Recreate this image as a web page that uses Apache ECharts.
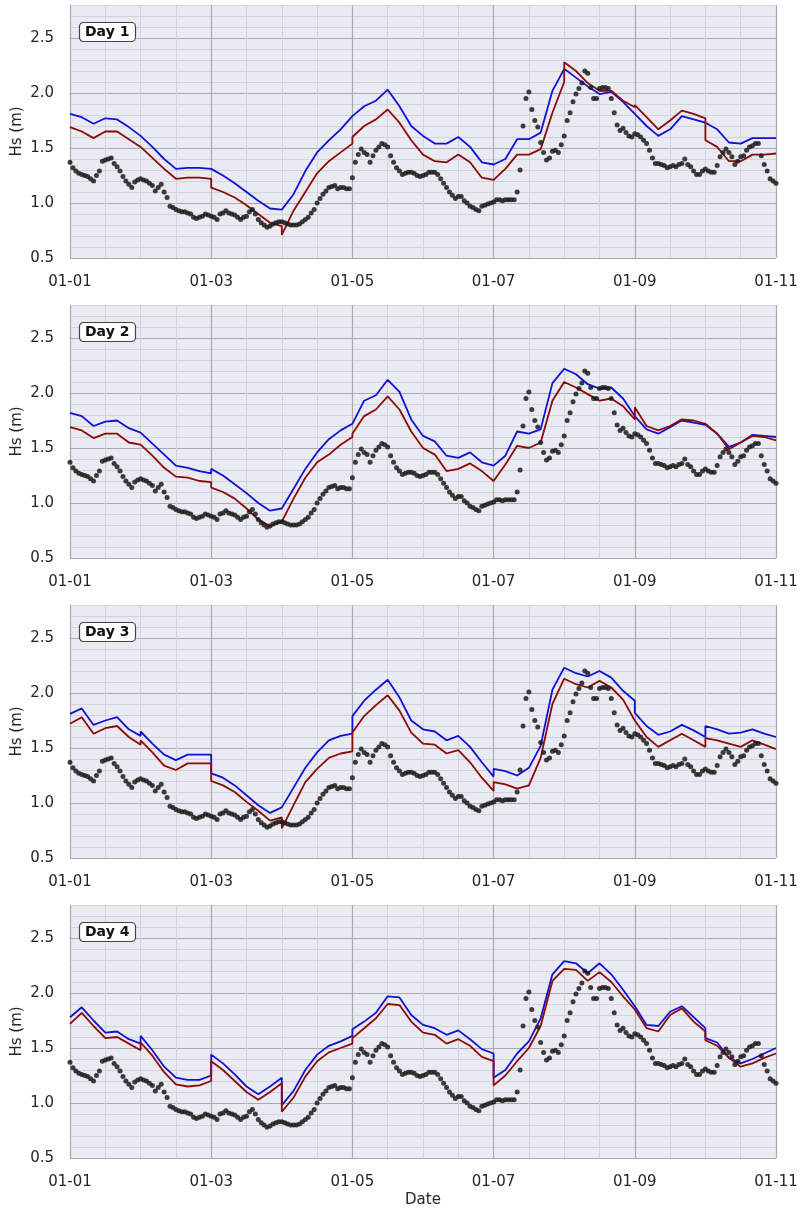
<!DOCTYPE html>
<html>
<head>
<meta charset="utf-8">
<title>Hs forecast vs observations</title>
<script src="https://cdn.jsdelivr.net/npm/echarts@6/dist/echarts.min.js"></script>
<style>
  html, body { margin: 0; padding: 0; background: #fff; }
  #chart { width: 802px; height: 1212px; }
</style>
</head>
<body>
<div id="chart"></div>
<script>
// observed Hs (m), hourly from 01-01 00:00 to 01-11 00:00 (241 values)
const obsHs = [
  1.37,
  1.32,1.29,1.27,1.26,1.25,1.24,1.22,1.20,1.25,1.29,1.38,1.39,1.40,1.41,1.36,1.33,1.29,1.24,1.20,1.17,1.14,1.19,1.21,1.22,
  1.21,1.20,1.18,1.16,1.11,1.14,1.17,1.10,1.05,0.97,0.96,0.94,0.93,0.92,0.92,0.91,0.90,0.87,0.86,0.87,0.88,0.90,0.89,0.88,
  0.87,0.85,0.90,0.91,0.93,0.91,0.90,0.89,0.87,0.85,0.87,0.88,0.92,0.94,0.90,0.85,0.82,0.80,0.78,0.79,0.81,0.82,0.83,0.83,
  0.82,0.81,0.80,0.80,0.80,0.81,0.83,0.85,0.87,0.91,0.94,1.00,1.04,1.08,1.11,1.14,1.15,1.16,1.13,1.14,1.14,1.13,1.13,1.23,
  1.37,1.44,1.49,1.46,1.44,1.37,1.43,1.48,1.51,1.54,1.53,1.51,1.43,1.37,1.32,1.29,1.26,1.27,1.28,1.28,1.27,1.25,1.24,1.25,
  1.26,1.28,1.28,1.28,1.26,1.22,1.18,1.14,1.10,1.07,1.04,1.06,1.06,1.02,1.00,0.97,0.96,0.94,0.93,0.97,0.98,0.99,1.00,1.01,
  1.03,1.03,1.02,1.03,1.03,1.03,1.03,1.10,1.30,1.70,1.95,2.01,1.85,1.75,1.69,1.55,1.46,1.39,1.41,1.47,1.48,1.46,1.53,1.61,
  1.75,1.82,1.92,1.99,2.04,2.09,2.20,2.18,2.05,1.95,1.95,2.04,2.05,2.05,2.04,1.95,1.82,1.71,1.66,1.68,1.64,1.61,1.60,1.63,
  1.62,1.60,1.57,1.54,1.48,1.41,1.36,1.36,1.35,1.34,1.32,1.33,1.34,1.33,1.35,1.36,1.40,1.35,1.33,1.29,1.26,1.26,1.29,1.31,
  1.29,1.28,1.28,1.34,1.42,1.46,1.49,1.46,1.42,1.35,1.38,1.42,1.43,1.48,1.51,1.52,1.54,1.54,1.43,1.35,1.29,1.22,1.20,1.18
];

// forecasts: one row per day, values at 00,04,08,12,16,20,24 h of that day
const STEP_H = 4;

const day1Blue = [
  [1.81,1.78,1.72,1.77,1.76,1.69,1.61],
  [1.61,1.51,1.40,1.31,1.32,1.32,1.31],
  [1.31,1.25,1.18,1.10,1.02,0.95,0.94],
  [0.94,1.08,1.29,1.46,1.57,1.67,1.79],
  [1.79,1.88,1.93,2.03,1.88,1.70,1.61],
  [1.61,1.54,1.54,1.60,1.51,1.37,1.35],
  [1.35,1.40,1.58,1.58,1.64,2.02,2.22],
  [2.22,2.14,2.06,1.99,2.01,1.92,1.81],
  [1.81,1.70,1.61,1.67,1.79,1.76,1.73],
  [1.73,1.67,1.55,1.54,1.59,1.59,1.59]
];
const day1Red = [
  [1.69,1.65,1.59,1.65,1.65,1.58,1.51],
  [1.51,1.41,1.31,1.22,1.23,1.23,1.22],
  [1.14,1.10,1.05,0.98,0.90,0.82,0.79],
  [0.71,0.93,1.10,1.27,1.38,1.46,1.54],
  [1.60,1.70,1.76,1.85,1.73,1.57,1.44],
  [1.45,1.38,1.37,1.44,1.37,1.23,1.21],
  [1.21,1.31,1.44,1.44,1.49,1.82,2.10],
  [2.28,2.20,2.09,2.02,2.02,1.93,1.87],
  [1.89,1.78,1.67,1.75,1.84,1.81,1.77],
  [1.57,1.51,1.38,1.38,1.44,1.44,1.45]
];

const day2Blue = [
  [1.82,1.79,1.70,1.74,1.75,1.68,1.64],
  [1.64,1.54,1.44,1.34,1.32,1.29,1.27],
  [1.31,1.25,1.17,1.09,1.00,0.93,0.95],
  [0.95,1.13,1.31,1.46,1.58,1.66,1.72],
  [1.72,1.93,1.98,2.12,2.01,1.76,1.61],
  [1.61,1.56,1.43,1.41,1.46,1.37,1.34],
  [1.34,1.43,1.65,1.63,1.67,2.09,2.22],
  [2.22,2.17,2.08,2.04,2.05,1.95,1.79],
  [1.79,1.67,1.63,1.69,1.75,1.73,1.71],
  [1.71,1.63,1.51,1.55,1.62,1.61,1.60]
];
const day2Red = [
  [1.69,1.66,1.59,1.63,1.63,1.55,1.53],
  [1.53,1.43,1.32,1.24,1.23,1.20,1.19],
  [1.14,1.10,1.04,0.95,0.85,0.79,0.83],
  [0.83,1.04,1.23,1.37,1.44,1.53,1.60],
  [1.63,1.79,1.85,1.97,1.85,1.65,1.50],
  [1.50,1.44,1.29,1.31,1.36,1.29,1.20],
  [1.20,1.35,1.52,1.50,1.55,1.93,2.10],
  [2.10,2.05,1.99,1.93,1.95,1.88,1.76],
  [1.87,1.70,1.66,1.70,1.76,1.75,1.72],
  [1.72,1.63,1.49,1.55,1.61,1.60,1.57]
];

const day3Blue = [
  [1.81,1.86,1.71,1.75,1.78,1.67,1.61],
  [1.65,1.54,1.44,1.39,1.44,1.44,1.44],
  [1.27,1.23,1.16,1.07,0.98,0.91,0.96],
  [0.96,1.14,1.32,1.46,1.57,1.61,1.63],
  [1.79,1.93,2.03,2.12,1.96,1.75,1.67],
  [1.67,1.65,1.57,1.61,1.51,1.37,1.24],
  [1.31,1.29,1.25,1.32,1.52,2.03,2.23],
  [2.23,2.18,2.15,2.20,2.14,2.02,1.93],
  [1.82,1.70,1.62,1.65,1.71,1.66,1.60],
  [1.70,1.67,1.63,1.64,1.67,1.63,1.60]
];
const day3Red = [
  [1.72,1.78,1.63,1.68,1.70,1.60,1.53],
  [1.57,1.46,1.34,1.30,1.36,1.36,1.36],
  [1.20,1.16,1.10,1.01,0.93,0.84,0.87],
  [0.77,0.98,1.19,1.31,1.41,1.45,1.47],
  [1.64,1.79,1.89,1.98,1.84,1.64,1.54],
  [1.54,1.53,1.45,1.48,1.37,1.23,1.11],
  [1.19,1.17,1.13,1.16,1.41,1.90,2.13],
  [2.13,2.08,2.05,2.11,2.05,1.94,1.75],
  [1.75,1.60,1.51,1.57,1.63,1.57,1.51],
  [1.59,1.57,1.54,1.51,1.57,1.53,1.49]
];

const day4Blue = [
  [1.78,1.87,1.75,1.64,1.65,1.58,1.54],
  [1.61,1.48,1.33,1.23,1.21,1.21,1.25],
  [1.44,1.36,1.26,1.15,1.08,1.15,1.23],
  [0.98,1.11,1.30,1.44,1.52,1.56,1.61],
  [1.67,1.74,1.82,1.97,1.96,1.80,1.71],
  [1.72,1.68,1.62,1.66,1.58,1.49,1.45],
  [1.23,1.30,1.45,1.56,1.77,2.17,2.29],
  [2.29,2.27,2.18,2.27,2.17,2.03,1.88],
  [1.88,1.71,1.70,1.83,1.88,1.78,1.68],
  [1.59,1.55,1.41,1.36,1.40,1.45,1.50]
];
const day4Red = [
  [1.72,1.82,1.70,1.59,1.60,1.54,1.48],
  [1.55,1.43,1.28,1.17,1.15,1.16,1.20],
  [1.38,1.30,1.20,1.10,1.03,1.10,1.18],
  [0.92,1.05,1.24,1.38,1.46,1.50,1.54],
  [1.59,1.68,1.77,1.90,1.89,1.74,1.64],
  [1.65,1.62,1.54,1.58,1.52,1.42,1.38],
  [1.16,1.25,1.38,1.50,1.70,2.11,2.22],
  [2.22,2.21,2.11,2.19,2.10,1.97,1.85],
  [1.85,1.68,1.65,1.80,1.86,1.74,1.65],
  [1.57,1.52,1.41,1.33,1.36,1.41,1.45]
];

const panelLabels = ['Day 1', 'Day 2', 'Day 3', 'Day 4'];
const xTickLabels = ['01-01', '01-03', '01-05', '01-07', '01-09', '01-11'];

const panels = [
  { label: panelLabels[0], blue: day1Blue, red: day1Red },
  { label: panelLabels[1], blue: day2Blue, red: day2Red },
  { label: panelLabels[2], blue: day3Blue, red: day3Red },
  { label: panelLabels[3], blue: day4Blue, red: day4Red }
];

const FONT = 'DejaVu Sans';
const MAJOR = '#a9a9b0';
const MINOR = '#d3d3db';

// 每天一段，段与段在 00 时相接（跳变处画成竖线）
function dailyToPoints(days) {
  const pts = [];
  days.forEach((row, d) => {
    row.forEach((v, k) => pts.push([d * 24 + k * STEP_H, v]));
  });
  return pts;
}

const obsPoints = obsHs.map((v, h) => [h, v]);

const grid = [], xAxis = [], yAxis = [], series = [], title = [];

panels.forEach((p, i) => {
  const top = 5 + 300 * i;
  grid.push({
    left: 70, top: top, width: 706, height: 253,
    outerBoundsMode: 'none', containLabel: false,
    show: true, backgroundColor: '#eaeaf2', borderWidth: 0
  });

  title.push({
    text: p.label,
    left: 79, top: top + 17,
    padding: [3, 6],
    backgroundColor: '#fff',
    borderColor: '#444',
    borderWidth: 1.2,
    borderRadius: 4,
    textStyle: { fontFamily: FONT, fontSize: 14, fontWeight: 'bold', color: '#111' }
  });

  const last = i === panels.length - 1;
  xAxis.push({
    type: 'value', gridIndex: i,
    min: 0, max: 240, interval: 48,
    axisLine: { show: false }, axisTick: { show: false },
    axisLabel: {
      formatter: v => xTickLabels[Math.round(v / 48)],
      fontFamily: FONT, fontSize: 15, color: '#262626', margin: 17
    },
    splitLine: { show: true, lineStyle: { color: MAJOR, width: 1.2 } },
    minorTick: { show: false, splitNumber: 4 },
    minorSplitLine: { show: true, lineStyle: { color: MINOR, width: 1 } },
    name: last ? 'Date' : '',
    nameLocation: 'middle', nameGap: 35,
    nameTextStyle: { fontFamily: FONT, fontSize: 15, color: '#262626' }
  });

  // minor horizontal grid, every 0.1 m
  yAxis.push({
    type: 'value', gridIndex: i, position: 'right',
    min: 0.5, max: 2.8, interval: 0.1,
    axisLine: { show: false }, axisTick: { show: false }, axisLabel: { show: false },
    splitLine: { show: true, lineStyle: { color: MINOR, width: 1 } }
  });
  // major axis with labels
  yAxis.push({
    type: 'value', gridIndex: i, position: 'left',
    min: 0.5, max: 2.8, interval: 0.5,
    axisLine: { show: false }, axisTick: { show: false },
    axisLabel: {
      formatter: v => v.toFixed(1), showMaxLabel: false,
      fontFamily: FONT, fontSize: 15, color: '#262626', margin: 16
    },
    splitLine: { show: true, showMaxLine: false, lineStyle: { color: MAJOR, width: 1.2 } },
    name: 'Hs (m)', nameLocation: 'middle', nameGap: 45, nameMoveOverlap: false,
    nameTextStyle: { fontFamily: FONT, fontSize: 15, color: '#262626' }
  });

  series.push({
    type: 'line', xAxisIndex: i, yAxisIndex: 2 * i + 1,
    data: dailyToPoints(p.blue), showSymbol: false,
    lineStyle: { color: '#1111d6', width: 1.8 }, z: 2
  });
  series.push({
    type: 'line', xAxisIndex: i, yAxisIndex: 2 * i + 1,
    data: dailyToPoints(p.red), showSymbol: false,
    lineStyle: { color: '#8b0a0a', width: 1.8 }, z: 3
  });
  series.push({
    type: 'scatter', xAxisIndex: i, yAxisIndex: 2 * i + 1,
    data: obsPoints, symbolSize: 5,
    itemStyle: { color: '#1c1c1c', opacity: 0.85 }, z: 4
  });
});

const chart = echarts.init(document.getElementById('chart'));
chart.setOption({
  animation: false,
  backgroundColor: '#fff',
  textStyle: { fontFamily: FONT },
  title: title,
  grid: grid,
  xAxis: xAxis,
  yAxis: yAxis,
  series: series
});
</script>
</body>
</html>
